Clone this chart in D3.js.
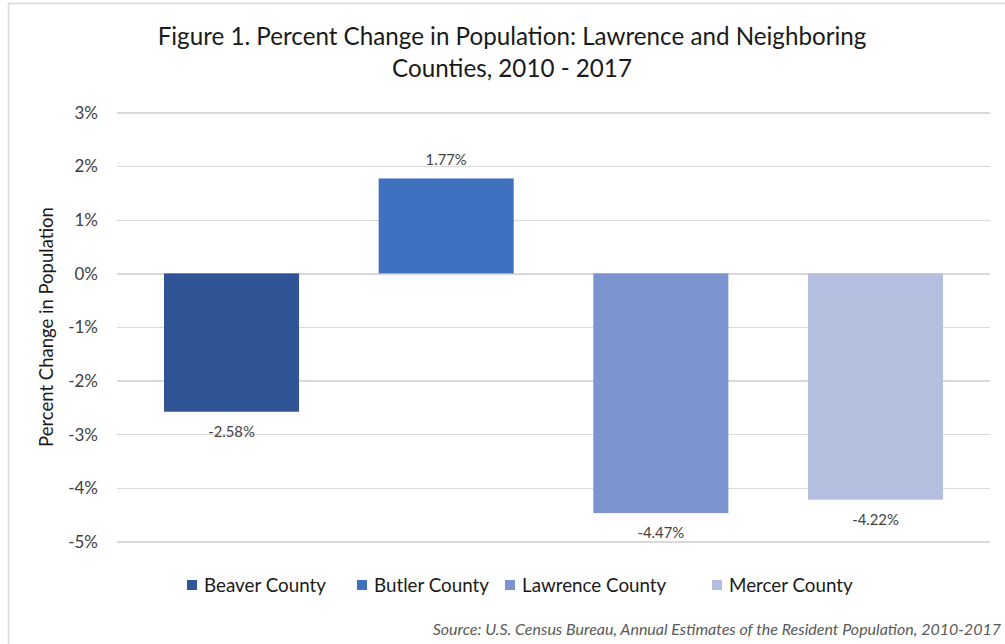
<!DOCTYPE html>
<html><head><meta charset="utf-8">
<script src="https://cdn.jsdelivr.net/npm/d3@7"></script>
<style>
body{margin:0;background:#fff;}
svg{display:block;font-family:Lato,"Open Sans",sans-serif;}
</style></head>
<body>
<svg id="c" width="1005" height="644"></svg>
<script>
const categories = ["Beaver County","Butler County","Lawrence County","Mercer County"];
const values = [-2.58, 1.77, -4.47, -4.22];
const labels = ["-2.58%","1.77%","-4.47%","-4.22%"];
const colors = ["#2f5597","#4070c0","#7b93cf","#b4bfdf"];
const yTicks = [3,2,1,0,-1,-2,-3,-4,-5];
const titleLines = ["Figure 1. Percent Change in Population: Lawrence and Neighboring","Counties, 2010 - 2017"];
const yTitle = "Percent Change in Population";
const source = "Source: U.S. Census Bureau, Annual Estimates of the Resident Population, 2010-2017";

const svg = d3.select("#c");
// frame
svg.append("rect").attr("x",8.5).attr("y",3.5).attr("width",1010).attr("height",660)
  .attr("fill","none").attr("stroke","#d9d9d9").attr("stroke-width",1.5);

const L=117,R=990,T=112.5,B=541.5;
const y = d3.scaleLinear().domain([-5,3]).range([B,T]);
const x = d3.scaleBand().domain(categories).range([L,R]).paddingInner(0.371).paddingOuter(0.219);

// grid
const yAxis = d3.axisLeft(y).tickValues(yTicks).tickSize(-(R-L)).tickFormat(d=>d+"%").tickPadding(19);
const g = svg.append("g").attr("transform",`translate(${L},0)`).call(yAxis);
g.select(".domain").remove();
g.selectAll(".tick line").attr("stroke","#d9d9d9").attr("stroke-width",1.3).attr("shape-rendering","crispEdges");
g.selectAll(".tick text").attr("fill","#404040").attr("font-size",17).attr("font-family","Lato,sans-serif").attr("dy","0.34em");

// bars
svg.append("g").selectAll("rect").data(categories).join("rect")
  .attr("x",d=>x(d)).attr("width",x.bandwidth())
  .attr("y",(d,i)=>y(Math.max(0,values[i])))
  .attr("height",(d,i)=>Math.abs(y(values[i])-y(0)))
  .attr("fill",(d,i)=>colors[i]);

// data labels
svg.append("g").selectAll("text").data(categories).join("text")
  .attr("x",d=>x(d)+x.bandwidth()/2)
  .attr("y",(d,i)=>values[i]>=0 ? y(values[i])-13 : y(values[i])+25)
  .attr("text-anchor","middle").attr("font-size",14.8).attr("fill","#404040")
  .text((d,i)=>labels[i]);

// title
svg.append("text").attr("x",512).attr("y",45).attr("text-anchor","middle")
  .attr("font-size",24.2).attr("fill","#1a1a1a")
  .selectAll("tspan").data(titleLines).join("tspan")
  .attr("x",512).attr("dy",(d,i)=>i?32:0).text(d=>d);

// y title
svg.append("text").attr("transform","translate(53,327) rotate(-90)")
  .attr("text-anchor","middle").attr("font-size",18.5).attr("fill","#1a1a1a").text(yTitle);

// legend
const legX=[187,357,505,712];
const leg = svg.append("g").selectAll("g").data(categories).join("g")
  .attr("transform",(d,i)=>`translate(${legX[i]},580)`);
leg.append("rect").attr("width",10).attr("height",10).attr("fill",(d,i)=>colors[i]);
leg.append("text").attr("x",17).attr("y",5).attr("dy","0.35em").attr("font-size",18.8).attr("fill","#1a1a1a").text(d=>d);

// source
svg.append("text").attr("x",1001).attr("y",635).attr("text-anchor","end")
  .attr("font-size",16).attr("font-style","italic").attr("fill","#595959").text(source);
</script>
</body></html>
